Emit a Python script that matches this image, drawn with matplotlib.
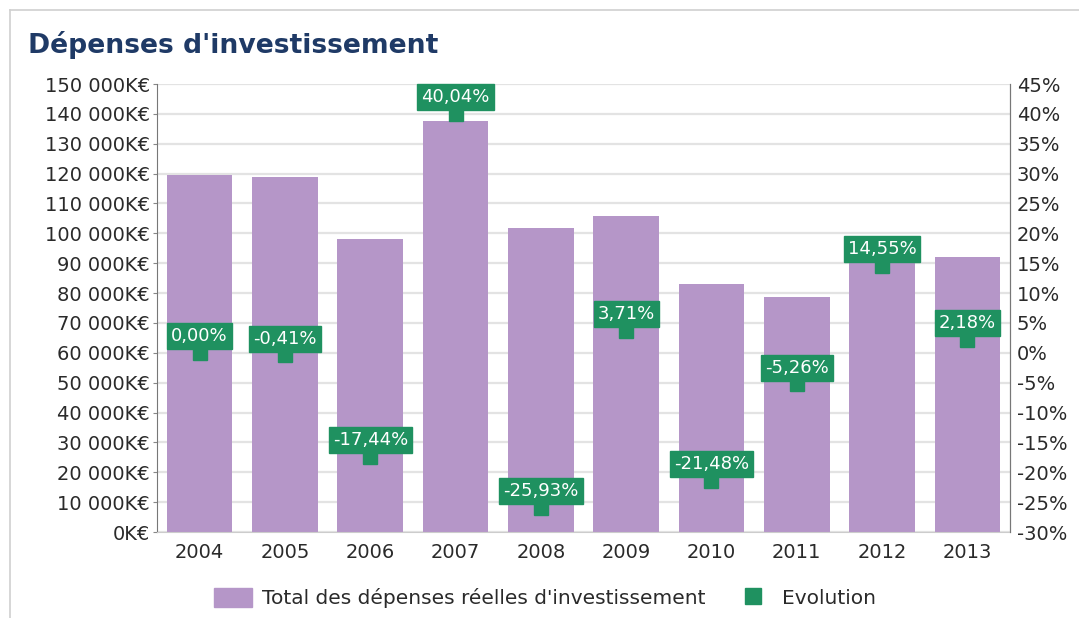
import matplotlib
matplotlib.use("Agg")
import matplotlib.pyplot as plt
from matplotlib.lines import Line2D
from matplotlib.patches import Patch

years = ["2004", "2005", "2006", "2007", "2008", "2009", "2010", "2011", "2012", "2013"]
depenses = [119500, 119000, 98200, 137600, 101900, 105700, 83000, 78600, 90100, 92000]
evolution = [0.00, -0.41, -17.44, 40.04, -25.93, 3.71, -21.48, -5.26, 14.55, 2.18]
left_ticks = list(range(0, 150001, 10000))
right_ticks = list(range(-30, 46, 5))

PURPLE = "#b596c8"
GREEN = "#1f9160"
TITLE_C = "#1f3a66"
TXT = "#2a2a2a"

plt.rcParams['font.family'] = ['DejaVu Sans']

fig = plt.figure(figsize=(10.79, 6.18), dpi=100)
fig.patch.set_facecolor("white")
ax = fig.add_axes([157/1079, 1-532/618, (1010-157)/1079, (532-84)/618])
x = list(range(len(years)))
ax.bar(x, depenses, width=0.77, color=PURPLE, zorder=2)
ax.set_xlim(-0.5, len(years)-0.5)
ax.set_ylim(0, 150000)
ax.set_yticks(left_ticks)
ax.set_yticklabels([("{:,}".format(v).replace(",", " ") + "K€") for v in left_ticks],
                   fontsize=14, color=TXT)
ax.set_xticks(x)
ax.set_xticklabels(years, fontsize=14, color=TXT)
ax.tick_params(axis='x', length=0, pad=8)
ax.tick_params(axis='y', length=3, color="#888888", pad=2)
ax.grid(axis='y', color="#e3e3e3", linewidth=1.6, zorder=0)
ax.set_axisbelow(True)
ax.spines["top"].set_visible(False)
ax.spines["left"].set_color("#777777")
ax.spines["right"].set_color("#777777")
ax.spines["bottom"].set_color("#cccccc")

ax2 = ax.twinx()
ax2.set_ylim(-30, 45)
ax2.set_yticks(right_ticks)
ax2.set_yticklabels([f"{v}%" for v in right_ticks], fontsize=14, color=TXT)
ax2.tick_params(axis='y', length=0, pad=5)
ax2.spines["top"].set_visible(False)
ax2.spines["right"].set_color("#777777")
ax2.spines["left"].set_visible(False)
ax2.spines["bottom"].set_visible(False)
ax2.plot(x, evolution, linestyle="none", marker="s", markersize=10, color=GREEN, zorder=3)
for xi, v in zip(x, evolution):
    ax2.annotate(f"{v:.2f}%".replace(".", ","), (xi, v), xytext=(0, 12), textcoords="offset points",
                 ha="center", va="center", fontsize=13, color="white",
                 bbox=dict(boxstyle="square,pad=0.22", fc=GREEN, ec=GREEN), zorder=4)

fig.text(28/1079, 1-45/618, "Dépenses d'investissement", fontsize=19.2, fontweight="bold",
         color=TITLE_C, ha="left", va="center")

handles = [Patch(facecolor=PURPLE, edgecolor=PURPLE),
           Line2D([], [], linestyle="none", marker="s", markersize=11, color=GREEN)]
fig.legend(handles, ["Total des dépenses réelles d'investissement", "Evolution"],
           loc="center", bbox_to_anchor=(0.505, 1-598/618), ncol=2, frameon=False,
           fontsize=14.5, handlelength=1.9, handleheight=1.1, handletextpad=0.5,
           columnspacing=1.4, labelcolor=TXT)

fig.add_artist(Line2D([10/1079, 1], [1-10/618, 1-10/618], color="#d0d0d0", linewidth=1.2))
fig.add_artist(Line2D([10/1079, 10/1079], [0, 1-10/618], color="#d0d0d0", linewidth=1.2))

fig.savefig("out.png", dpi=100, facecolor="white")
